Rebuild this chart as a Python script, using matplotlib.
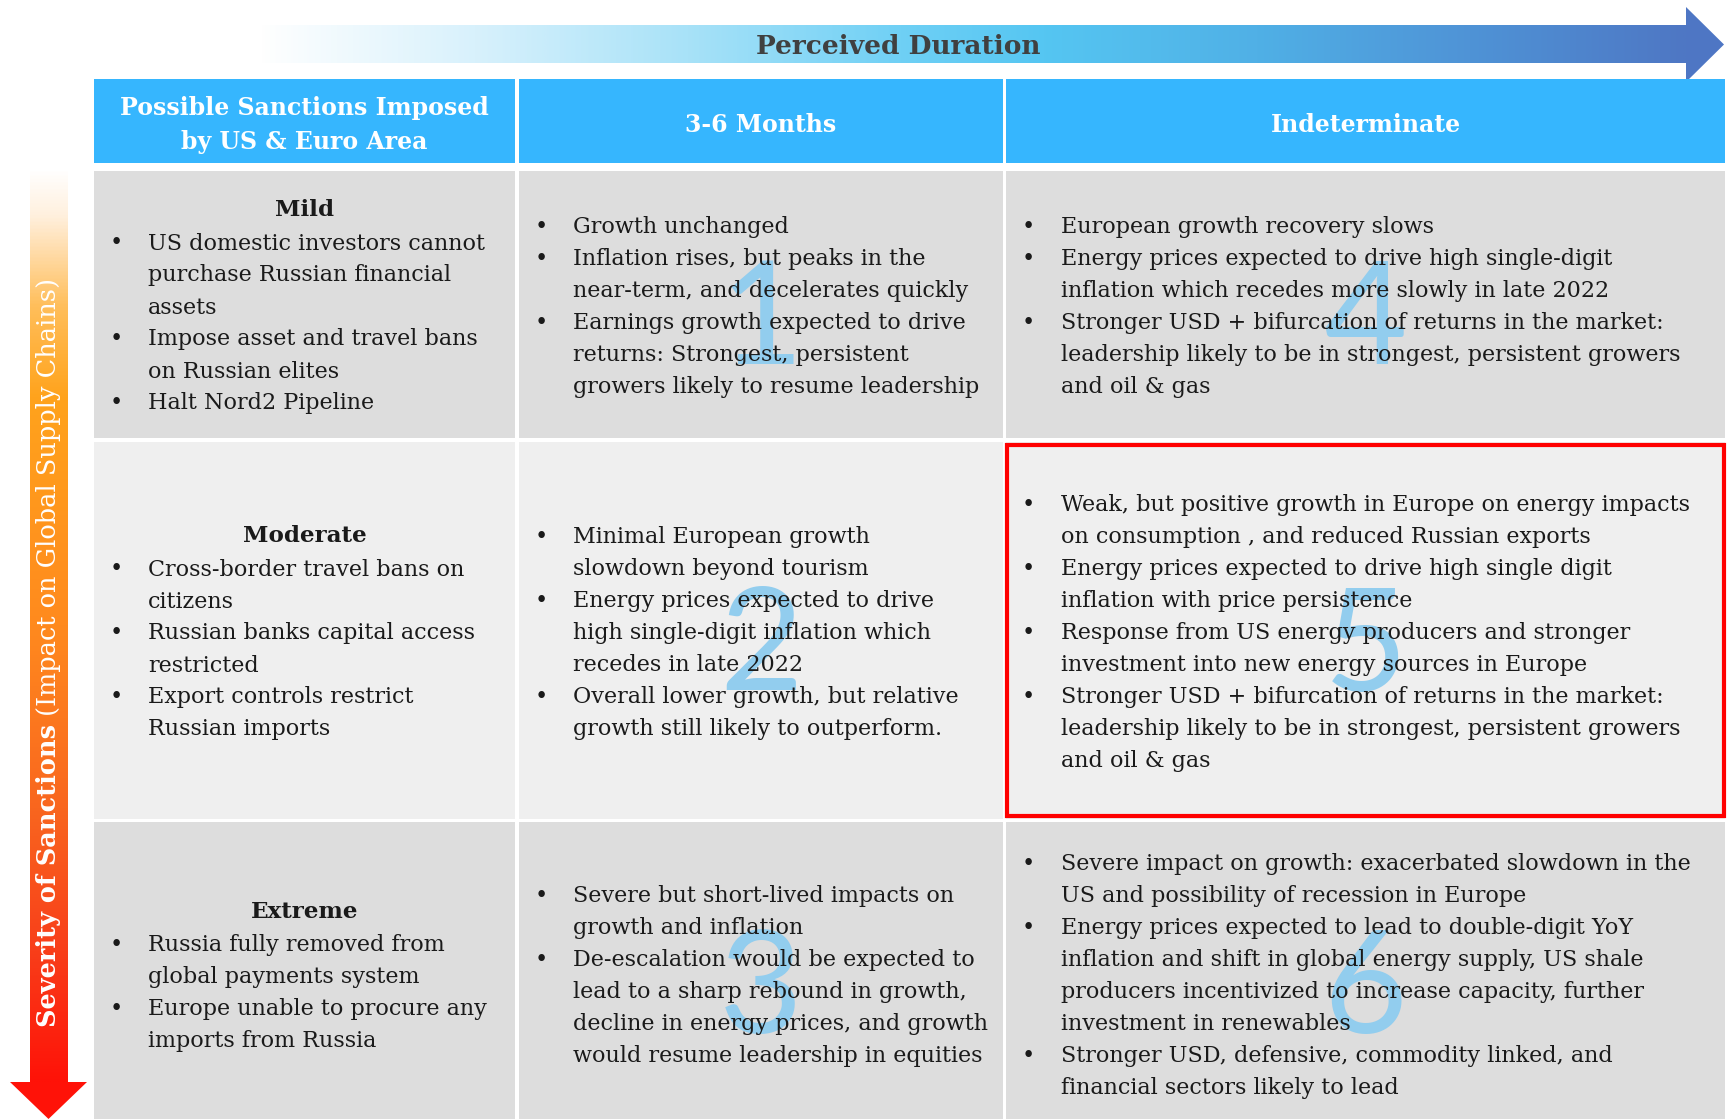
import matplotlib
matplotlib.use("Agg")
import matplotlib.pyplot as plt
import numpy as np
from matplotlib.patches import Rectangle, Polygon
from matplotlib.colors import LinearSegmentedColormap

# ---------------- data ----------------
x_title = "Perceived Duration"
y_title_bold = "Severity of Sanctions"
y_title_rest = " (Impact on Global Supply Chains)"
col_headers = [["Possible Sanctions Imposed", "by US & Euro Area"], ["3-6 Months"], ["Indeterminate"]]
severity_levels = ["Mild", "Moderate", "Extreme"]

sanctions = [
    [["US domestic investors cannot", "purchase Russian financial", "assets"],
     ["Impose asset and travel bans", "on Russian elites"],
     ["Halt Nord2 Pipeline"]],
    [["Cross-border travel bans on", "citizens"],
     ["Russian banks capital access", "restricted"],
     ["Export controls restrict", "Russian imports"]],
    [["Russia fully removed from", "global payments system"],
     ["Europe unable to procure any", "imports from Russia"]],
]

outlook_short = [
    [["Growth unchanged"],
     ["Inflation rises, but peaks in the", "near-term, and decelerates quickly"],
     ["Earnings growth expected to drive", "returns: Strongest, persistent",
      "growers likely to resume leadership"]],
    [["Minimal European growth", "slowdown beyond tourism"],
     ["Energy prices expected to drive", "high single-digit inflation which",
      "recedes in late 2022"],
     ["Overall lower growth, but relative", "growth still likely to outperform."]],
    [["Severe but short-lived impacts on", "growth and inflation"],
     ["De-escalation would be expected to", "lead to a sharp rebound in growth,",
      "decline in energy prices, and growth", "would resume leadership in equities"]],
]

outlook_long = [
    [["European growth recovery slows"],
     ["Energy prices expected to drive high single-digit",
      "inflation which recedes more slowly in late 2022"],
     ["Stronger USD + bifurcation of returns in the market:",
      "leadership likely to be in strongest, persistent growers", "and oil & gas"]],
    [["Weak, but positive growth in Europe on energy impacts",
      "on consumption , and reduced Russian exports"],
     ["Energy prices expected to drive high single digit",
      "inflation with price persistence"],
     ["Response from US energy producers and stronger",
      "investment into new energy sources in Europe"],
     ["Stronger USD + bifurcation of returns in the market:",
      "leadership likely to be in strongest, persistent growers", "and oil & gas"]],
    [["Severe impact on growth: exacerbated slowdown in the",
      "US and possibility of recession in Europe"],
     ["Energy prices expected to lead to double-digit YoY",
      "inflation and shift in global energy supply, US shale",
      "producers incentivized to increase capacity, further",
      "investment in renewables"],
     ["Stronger USD, defensive, commodity linked, and",
      "financial sectors likely to lead"]],
]

scenario_numbers = [["1", "4"], ["2", "5"], ["3", "6"]]
highlight_cell = (1, 2)

# ---------------- layout / style ----------------
W, H, DPI = 1730, 1119, 100
SERIF = "DejaVu Serif"
COL_X = [(94, 515), (519, 1003), (1006, 1725)]
HEADER_Y = (79, 163)
ROW_Y = [(171, 438), (442, 819), (822, 1125)]
ROW_FILL = ["#DDDDDD", "#EFEFEF", "#DDDDDD"]
HEADER_FILL = "#36B6FE"
TEXT_COLOR = "#1A1A1A"
NUM_COLOR = "#92CDEE"
LINE_GAP = 32
HEAD_GAP = 33

fig = plt.figure(figsize=(W / DPI, H / DPI), dpi=DPI)
ax = fig.add_axes([0, 0, 1, 1])
ax.set_xlim(0, W)
ax.set_ylim(H, 0)
ax.axis("off")
renderer = fig.canvas.get_renderer()


def fit_size(s, target_px, **kw):
    t = ax.text(0, 0, s, fontsize=10, **kw)
    w = t.get_window_extent(renderer).width
    t.remove()
    return 10.0 * target_px / w


body_fs = fit_size("leadership likely to be in strongest, persistent growers", 622, family=SERIF)
level_fs = fit_size("Moderate", 124, family=SERIF, weight="bold")
head_fs = fit_size("Possible Sanctions Imposed", 370, family=SERIF, weight="bold")
title_fs = fit_size(x_title, 285, family=SERIF, weight="bold")
side_fs = fit_size(y_title_bold, 303, family=SERIF, weight="bold")

# ---------------- top arrow ----------------
top_cmap = LinearSegmentedColormap.from_list(
    "top", [(0.0, "#FFFFFF"), (0.15, "#D8F1FC"), (0.3, "#A8E2F8"), (0.45, "#6FD0F5"),
            (0.55, "#55C6F2"), (0.7, "#50B0E6"), (0.85, "#4F93D6"), (1.0, "#4E77C4")])
grad = np.linspace(0, 1, 512)[None, :]
ax.imshow(grad, cmap=top_cmap, extent=[258, 1687, 63, 25], aspect="auto", zorder=1,
          interpolation="bilinear")
ax.add_patch(Polygon([(1686, 7), (1724, 44.5), (1686, 82)], closed=True,
                     facecolor="#4E76C4", edgecolor="none", zorder=1))
ax.text(898, 46, x_title, fontsize=title_fs, family=SERIF, weight="bold",
        color="#404040", ha="center", va="center", zorder=3)

# ---------------- left arrow ----------------
side_cmap = LinearSegmentedColormap.from_list(
    "side", [(0.0, "#FFFFFF"), (0.05, "#FFF0DE"), (0.15, "#FFBE5A"), (0.25, "#FFA31C"),
             (0.5, "#FF8A1E"), (0.7, "#F9661F"), (0.85, "#F8401A"), (1.0, "#FF1208")])
vgrad = np.linspace(0, 1, 512)[:, None]
ax.imshow(vgrad, cmap=side_cmap, extent=[30, 68, 1083, 168], aspect="auto", zorder=1,
          interpolation="bilinear", origin="upper")
ax.add_patch(Polygon([(10, 1082), (87, 1082), (48.5, 1119)], closed=True,
                     facecolor="#FF1208", edgecolor="none", zorder=1))
t1 = ax.text(49, 1027, y_title_bold, fontsize=side_fs, family=SERIF, weight="bold",
             color="white", rotation=90, ha="center", va="bottom", zorder=3)
h1 = t1.get_window_extent(renderer).height
ax.text(49, 1027 - h1, y_title_rest, fontsize=side_fs, family=SERIF, weight="normal",
        color="white", rotation=90, ha="center", va="bottom", zorder=3)

# ---------------- header ----------------
hc_y = (HEADER_Y[0] + HEADER_Y[1]) / 2 + 2
for (x0, x1), lines in zip(COL_X, col_headers):
    ax.add_patch(Rectangle((x0, HEADER_Y[0]), x1 - x0, HEADER_Y[1] - HEADER_Y[0],
                           facecolor=HEADER_FILL, edgecolor="none", zorder=1))
    n = len(lines)
    for i, line in enumerate(lines):
        y = hc_y + (i - (n - 1) / 2.0) * 34
        ax.text((x0 + x1) / 2, y, line, fontsize=head_fs, family=SERIF, weight="bold",
                color="white", ha="center", va="center_baseline", zorder=3)

# ---------------- body cells ----------------
for r, (y0, y1) in enumerate(ROW_Y):
    for (x0, x1) in COL_X:
        ax.add_patch(Rectangle((x0, y0), x1 - x0, y1 - y0, facecolor=ROW_FILL[r],
                               edgecolor="none", zorder=1))


def draw_cell(bullets, x0, x1, cy, bullet_dx, text_dx, heading=None):
    items = []
    if heading:
        items.append(("head", heading))
    for b in bullets:
        for i, line in enumerate(b):
            items.append(("bullet" if i == 0 else "cont", line))
    gaps = []
    for i in range(1, len(items)):
        gaps.append(HEAD_GAP if items[i - 1][0] == "head" else LINE_GAP)
    total = sum(gaps)
    y = cy - total / 2.0
    for i, (kind, txt) in enumerate(items):
        if i > 0:
            y += gaps[i - 1]
        if kind == "head":
            ax.text((x0 + x1) / 2, y, txt, fontsize=level_fs, family=SERIF, weight="bold",
                    color=TEXT_COLOR, ha="center", va="center_baseline", zorder=3)
        else:
            if kind == "bullet":
                ax.text(x0 + bullet_dx, y, "\u2022", fontsize=body_fs, family=SERIF,
                        color=TEXT_COLOR, ha="center", va="center_baseline", zorder=3)
            ax.text(x0 + text_dx, y, txt, fontsize=body_fs, family=SERIF,
                    color=TEXT_COLOR, ha="left", va="center_baseline", zorder=3)


for r, (y0, y1) in enumerate(ROW_Y):
    cy = (y0 + y1) / 2.0
    draw_cell(sanctions[r], *COL_X[0], cy, 22, 54, heading=severity_levels[r])
    draw_cell(outlook_short[r], *COL_X[1], cy, 22, 54)
    draw_cell(outlook_long[r], *COL_X[2], cy, 22, 55)
    for c in (1, 2):
        x0, x1 = COL_X[c]
        ax.text((x0 + x1) / 2, cy + 60, scenario_numbers[r][c - 1], fontsize=104,
                family="Lato", color=NUM_COLOR, ha="center", va="baseline", zorder=2)

# ---------------- highlight ----------------
hr, hc = highlight_cell
ax.add_patch(Rectangle((COL_X[hc][0] + 1, ROW_Y[hr][0] + 3), COL_X[hc][1] - COL_X[hc][0] - 2,
                       ROW_Y[hr][1] - ROW_Y[hr][0] - 6, facecolor="none",
                       edgecolor="#FF0000", linewidth=3, zorder=5))

fig.savefig("out.png", dpi=DPI)
